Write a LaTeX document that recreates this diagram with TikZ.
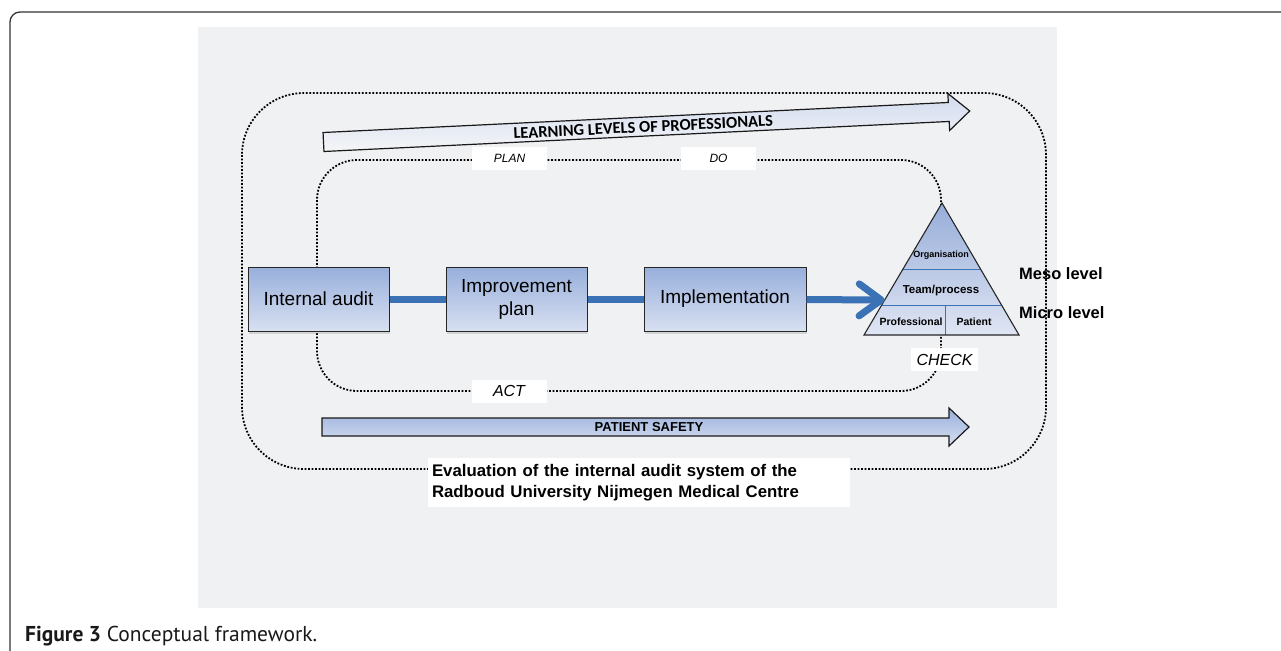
\documentclass[tikz,border=0pt]{standalone}
\usepackage{fontspec}
\setmainfont{Liberation Sans}
\newfontfamily\capfont{PT Sans}
\newfontfamily\calfont{Carlito}
\usetikzlibrary{arrows.meta,calc,positioning,shadows}
\definecolor{panel}{HTML}{F0F1F3}
\definecolor{boxtop}{HTML}{98AFDB}
\definecolor{boxbot}{HTML}{D8E0F1}
\definecolor{pyrtop}{HTML}{97ADD9}
\definecolor{pyrbot}{HTML}{DFE5F3}
\definecolor{flowblue}{HTML}{3B72B5}
\definecolor{divblue}{HTML}{3A73B8}
\newcommand{\fsz}[2]{\fontsize{#1}{#2}\selectfont}

\begin{document}
\begin{tikzpicture}[x=1pt,y=-1pt,
  dotline/.style={line width=1.8pt, dash pattern=on 1.8pt off 1.7pt},
  procbox/.style={draw=black!85, line width=1pt, top color=boxtop, bottom color=boxbot,
    minimum width=141pt, minimum height=64pt, inner sep=2pt, align=center,
    font=\fsz{19}{23}, drop shadow={shadow xshift=0.6pt, shadow yshift=-2.5pt, opacity=0.25}},
  flow/.style={line width=7pt, draw=flowblue},
  tag/.style={fill=white, inner sep=0pt, minimum width=75pt, minimum height=23pt,
    font=\itshape\fsz{12}{14}},
  bigtag/.style={tag, font=\itshape\fsz{16}{18}},
  level/.style={anchor=west, inner sep=0pt, font=\bfseries\fsz{16.5}{18}},
  pyrtxt/.style={inner sep=0pt, font=\bfseries\fsz{10.5}{12}},
  divider/.style={draw=divblue, line width=1pt},
  bandarrow/.style={draw=black!90, line width=1.2pt, line join=miter},
  node distance=56pt]
  \useasboundingbox (0,0) rectangle (1281,650);

  % frame and grey panel
  \draw[line width=1.3pt, black!80, rounded corners=10pt] (10,670) -- (10,12) -- (1300,12);
  \fill[panel] (198,27) rectangle (1057,608);

  % the two loops
  \draw[dotline, rounded corners=62pt] (242,93) rectangle (1046,469);
  \draw[dotline, rounded corners=40pt] (317,160) rectangle (941,391);

  % learning levels arrow
  \begin{scope}[shift={(323.5,142)}, rotate=2.75]
    \shade[top color=boxbot!90!boxtop, bottom color=panel!70!white] (0,-9.5) -- (626,-9.5) -- (626,-18.5)
      -- (647,0) -- (626,18.5) -- (626,9.5) -- (0,9.5) -- cycle;
    \draw[bandarrow] (0,-9.5) -- (626,-9.5) -- (626,-18.5)
      -- (647,0) -- (626,18.5) -- (626,9.5) -- (0,9.5) -- cycle;
    \node[transform shape, inner sep=0pt, font=\calfont\bfseries\fsz{16.5}{18}] (learn) at (320,0.5)
      {LEARNING LEVELS OF PROFESSIONALS};
  \end{scope}

  % patient safety arrow
  \shade[top color=boxtop, bottom color=boxbot] (322,418) -- (949,418) -- (949,408)
    -- (969,427) -- (949,446) -- (949,436) -- (322,436) -- cycle;
  \draw[bandarrow] (322,418) -- (949,418) -- (949,408)
    -- (969,427) -- (949,446) -- (949,436) -- (322,436) -- cycle;
  \node[inner sep=0pt, font=\bfseries\fsz{13}{15}] (safety) at (649,427) {PATIENT SAFETY};

  % cycle labels
  \node[tag] (plan lbl) at (509.5,158) {PLAN};
  \node[tag] (do lbl) at (718.5,158) {DO};
  \node[bigtag] (act lbl) at (509,391) {ACT};
  \node[bigtag, minimum width=67pt] (check lbl) at (944.5,359.5) {CHECK};

  % process boxes
  \node[procbox] (audit) at (318.5,299) {Internal audit};
  \node[procbox, right=of audit] (plan) {Improvement\\plan};
  \node[procbox, right=of plan, minimum width=162pt] (impl) {Implementation};

  % pyramid
  \coordinate (apex) at (942,203);
  \coordinate (bl) at (864,335);
  \coordinate (br) at (1019,335);
  \coordinate (pyrin) at ($(apex)!0.735!(bl)$);
  \shade[top color=pyrtop, bottom color=pyrbot] (apex) -- (bl) -- (br) -- cycle;
  \draw[divider] ($(apex)!0.5!(bl)$) -- ($(apex)!0.5!(br)$);
  \draw[divider] ($(apex)!0.773!(bl)$) -- ($(apex)!0.773!(br)$);
  \draw[divider] (945,305) -- (945,335);
  \draw[line width=1.1pt, black!85] (apex) -- (bl) -- (br) -- cycle;
  \node[pyrtxt, font=\bfseries\fsz{9}{11}] (org) at (941,255) {Organisation};
  \node[pyrtxt, font=\bfseries\fsz{11.5}{13}] (team) at (941,291) {Team/process};
  \node[pyrtxt] (prof) at (911,322) {Professional};
  \node[pyrtxt] (pat) at (974,322) {Patient};

  \node[level] (meso) at (1019,274) {Meso level};
  \node[level] (micro) at (1019,313) {Micro level};

  % connectors
  \draw[flow] (audit) -- (plan);
  \draw[flow] (plan) -- (impl);
  \draw[flow, -{Straight Barb[length=22pt,width=32pt,round]}] (impl) -- (pyrin);

  % evaluation label
  \node[fill=white, inner xsep=4pt, inner ysep=0pt, text width=414pt, minimum height=49pt,
    align=left, font=\bfseries\fsz{16.8}{21}] (eval) at (639,482.5)
    {Evaluation of the internal audit system of the\\Radboud University Nijmegen Medical Centre};

  % caption
  \node[anchor=base west, inner sep=0pt, font=\capfont\fsz{21.5}{24}, text=black!90] (caption)
    at (25,641) {\textbf{Figure 3} Conceptual framework.};
\end{tikzpicture}
\end{document}
